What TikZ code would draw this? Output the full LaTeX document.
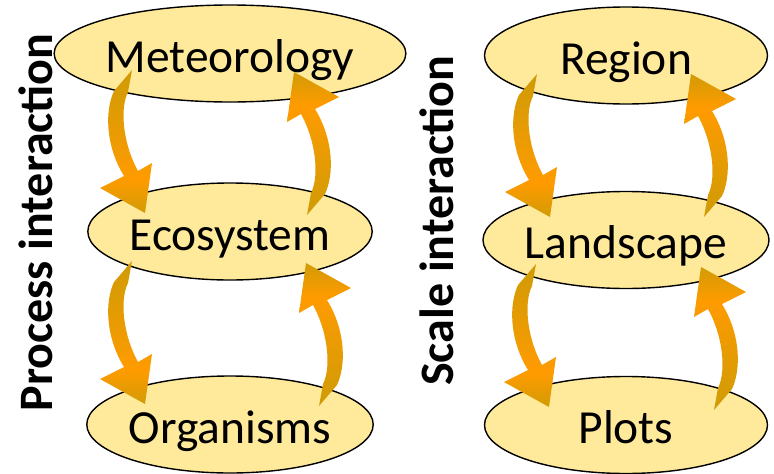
\documentclass[tikz,border=0pt]{standalone}
\usepackage{fontspec}
\setmainfont{Carlito}
\usetikzlibrary{shapes.geometric}
\definecolor{ellfill}{RGB}{255,234,156}
\definecolor{arrdk}{RGB}{210,155,5}
\definecolor{arror}{RGB}{255,155,0}
\definecolor{arrmid}{RGB}{235,155,3}
\pgfdeclareverticalshading{arrdown}{100bp}{color(0bp)=(arrdk); color(25bp)=(arrdk); color(37bp)=(arror); color(52bp)=(arrmid); color(72bp)=(arrdk); color(100bp)=(arrdk)}
\pgfdeclareverticalshading{arrup}{100bp}{color(0bp)=(arrdk); color(28bp)=(arrdk); color(48bp)=(arrmid); color(63bp)=(arror); color(75bp)=(arrdk); color(100bp)=(arrdk)}
\tikzset{
  ell/.style={ellipse, draw=black, line width=1.4pt, fill=ellfill,
    minimum width=284pt, minimum height=97pt, inner sep=0pt,
    font=\fontsize{47.5}{50}\selectfont, text height=37pt, text depth=0pt},
  lab/.style={font=\fontsize{48}{50}\selectfont\bfseries, rotate=90, anchor=base, inner sep=0pt},
  arrowshape/.pic={
    \shade[shading=#1] (0,0) -- (-18,21) .. controls (-27,40) and (-27,75) .. (-8,106)
      -- (-32,118) -- (13,143) -- (20,93) -- (6,101)
      .. controls (-8,76) and (-13,40) .. (-4,22) -- cycle;
  },
}
\begin{document}
\begin{tikzpicture}[x=1pt,y=-1pt]
\useasboundingbox (0,0) rectangle (774,474);
% left column
\node[ell] (met) at (230,53.5) {Meteorology};
\node[ell] (eco) at (230,231.5) {Ecosystem};
\node[ell] (org) at (230,424.5) {Organisms};
% right column
\node[ell, minimum width=283pt] (reg) at (626,55.5) {Region};
\node[ell, minimum width=283pt] (lan) at (626,240) {Landscape};
\node[ell, minimum width=283pt] (plo) at (626,425) {Plots};
% side labels
\node[lab] (proc) at (52,222.5) {Process interaction};
\node[lab] (scal) at (453,221) {Scale interaction};
% arrow tails
\coordinate (d1) at (132,70);
\coordinate (u1) at (307,215);
\coordinate (d2) at (132,261);
\coordinate (u2) at (319,406);
\coordinate (d3) at (537,74);
\coordinate (u3) at (704,217);
\coordinate (d4) at (536,264);
\coordinate (u4) at (714,410);
\pic at (d1) {arrowshape=arrdown};
\pic at (d2) {arrowshape=arrdown};
\pic at (d3) {arrowshape=arrdown};
\pic at (d4) {arrowshape=arrdown};
\pic[rotate=180] at (u1) {arrowshape=arrup};
\pic[rotate=180] at (u2) {arrowshape=arrup};
\pic[rotate=180] at (u3) {arrowshape=arrup};
\pic[rotate=180] at (u4) {arrowshape=arrup};
\end{tikzpicture}
\end{document}
